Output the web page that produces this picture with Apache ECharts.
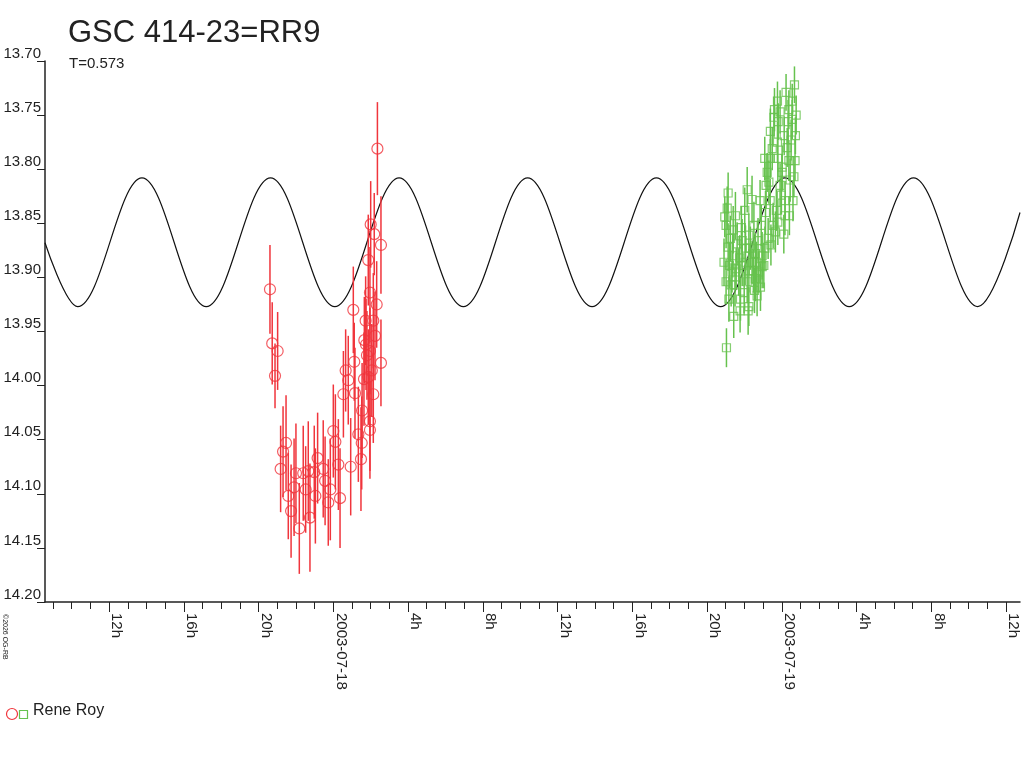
<!DOCTYPE html>
<html>
<head>
<meta charset="utf-8">
<script src="https://cdn.jsdelivr.net/npm/echarts@6/dist/echarts.min.js"></script>
<style>
  html, body { margin: 0; padding: 0; background: #fff; }
  #chart { width: 1024px; height: 768px; }
</style>
</head>
<body>
<div id="chart"></div>
<script>
// hours counted from 2003-07-18 00:00
var xMin = -15.43, xMax = 36.75;
var majorHours = [-12, -8, -4, 0, 4, 8, 12, 16, 20, 24, 28, 32, 36];
var majorLabels = ['12h', '16h', '20h', '2003-07-18', '4h', '8h', '12h', '16h', '20h', '2003-07-19', '4h', '8h', '12h'];
var minorHours = [];
for (var h = -15; h <= 36; h++) minorHours.push(h);

var curveHours = [-15.43, -13.68, -10.24, -6.80, -3.36, 0.08, 3.52, 6.96, 10.40, 13.85, 17.29, 20.73, 24.17, 27.61, 31.05, 34.49, 36.75];
var curveMags = [13.868, 13.927, 13.808, 13.927, 13.808, 13.927, 13.808, 13.927, 13.808, 13.927, 13.808, 13.927, 13.808, 13.927, 13.808, 13.927, 13.840];

// [hour, mag, error]  night of 07-17/18
var redObs = [
  [-3.39, 13.911, 0.041], [-3.27, 13.961, 0.038], [-2.98, 13.968, 0.036], [-3.12, 13.991, 0.030],
  [-2.82, 14.077, 0.040], [-2.69, 14.061, 0.042], [-2.53, 14.053, 0.044], [-2.41, 14.102, 0.040],
  [-2.26, 14.116, 0.043], [-2.10, 14.094, 0.045], [-2.00, 14.081, 0.046], [-1.82, 14.132, 0.042],
  [-1.61, 14.081, 0.044], [-1.48, 14.096, 0.040], [-1.34, 14.079, 0.046], [-1.25, 14.122, 0.050],
  [-1.02, 14.080, 0.043], [-0.96, 14.102, 0.044], [-0.84, 14.067, 0.042], [-0.54, 14.077, 0.045],
  [-0.44, 14.088, 0.041], [-0.27, 14.108, 0.040], [-0.16, 14.096, 0.047], [0.00, 14.042, 0.043],
  [0.11, 14.052, 0.044], [0.27, 14.073, 0.042], [0.36, 14.104, 0.046], [0.54, 14.008, 0.040],
  [0.66, 13.986, 0.038], [0.80, 13.995, 0.041], [0.93, 14.075, 0.045], [1.07, 13.930, 0.040],
  [1.12, 13.978, 0.036], [1.16, 14.007, 0.042], [1.34, 14.045, 0.044], [1.48, 14.068, 0.048],
  [1.52, 14.053, 0.043], [1.66, 13.958, 0.040], [1.73, 13.940, 0.041], [1.87, 13.992, 0.044],
  [1.87, 13.884, 0.042], [1.96, 14.041, 0.045], [1.96, 14.033, 0.046], [1.96, 13.968, 0.040],
  [1.96, 13.914, 0.042], [2.00, 13.851, 0.040], [2.06, 13.986, 0.043], [2.14, 13.940, 0.044],
  [2.14, 14.008, 0.045], [2.19, 13.860, 0.038], [2.23, 13.954, 0.041], [2.32, 13.925, 0.040],
  [2.36, 13.781, 0.043], [2.55, 13.870, 0.045], [2.55, 13.979, 0.040], [1.64, 13.994, 0.043],
  [1.54, 14.023, 0.044], [1.75, 13.962, 0.042], [1.80, 13.972, 0.041]
];

// [hour, mag, error]  night of 07-18/19
var greenObs = [
  [24.68, 13.722, 0.017], [23.77, 13.737, 0.018], [24.56, 13.737, 0.016], [23.61, 13.745, 0.020],
  [24.38, 13.745, 0.018], [23.58, 13.752, 0.019], [23.81, 13.756, 0.017], [24.34, 13.756, 0.020],
  [24.56, 13.754, 0.018], [23.39, 13.765, 0.021], [24.73, 13.769, 0.017], [23.77, 13.775, 0.019],
  [24.29, 13.780, 0.018], [23.09, 13.790, 0.020], [23.39, 13.790, 0.018], [23.79, 13.790, 0.021],
  [24.38, 13.792, 0.019], [24.02, 13.798, 0.020], [23.22, 13.803, 0.018], [24.02, 13.803, 0.017],
  [24.65, 13.807, 0.019], [22.15, 13.819, 0.021], [23.31, 13.812, 0.020], [21.13, 13.822, 0.019],
  [22.41, 13.828, 0.022], [23.98, 13.824, 0.018], [21.08, 13.836, 0.020], [22.02, 13.838, 0.021],
  [20.95, 13.844, 0.019], [21.52, 13.843, 0.022], [23.13, 13.840, 0.020], [24.41, 13.843, 0.018],
  [21.02, 13.852, 0.021], [21.84, 13.854, 0.020], [22.51, 13.852, 0.022], [23.66, 13.858, 0.019],
  [24.11, 13.860, 0.018], [21.25, 13.864, 0.021], [22.24, 13.861, 0.020], [23.27, 13.864, 0.019],
  [21.13, 13.872, 0.022], [21.61, 13.869, 0.020], [22.06, 13.873, 0.021], [22.59, 13.878, 0.019],
  [21.38, 13.880, 0.020], [22.95, 13.880, 0.022], [21.20, 13.889, 0.021], [21.88, 13.889, 0.019],
  [22.41, 13.886, 0.020], [23.04, 13.889, 0.021], [22.77, 13.895, 0.019], [21.70, 13.895, 0.022],
  [22.24, 13.894, 0.020], [21.02, 13.904, 0.021], [21.34, 13.895, 0.019], [22.15, 13.904, 0.020],
  [22.86, 13.909, 0.022], [22.68, 13.917, 0.019], [21.17, 13.920, 0.021], [21.79, 13.920, 0.020],
  [22.24, 13.927, 0.018], [22.20, 13.931, 0.022], [21.43, 13.936, 0.020], [21.04, 13.965, 0.018],
  [22.95, 13.890, 0.020], [22.59, 13.901, 0.021],
  [21.50, 13.907, 0.020], [21.99, 13.914, 0.019], [21.75, 13.882, 0.021], [22.32, 13.873, 0.020],
  [22.64, 13.886, 0.019], [21.40, 13.856, 0.022], [21.88, 13.866, 0.020], [22.73, 13.866, 0.021],
  [22.90, 13.852, 0.019], [23.38, 13.829, 0.020], [23.54, 13.852, 0.021], [23.71, 13.838, 0.019],
  [23.91, 13.815, 0.020], [24.18, 13.829, 0.018], [24.45, 13.810, 0.020], [24.71, 13.792, 0.019],
  [24.13, 13.769, 0.018], [23.91, 13.747, 0.020], [24.23, 13.729, 0.017], [24.50, 13.773, 0.019],
  [24.77, 13.750, 0.018], [23.49, 13.781, 0.020], [23.16, 13.815, 0.021], [22.84, 13.829, 0.019],
  [22.48, 13.894, 0.020], [22.04, 13.886, 0.021], [21.56, 13.892, 0.019], [21.29, 13.907, 0.020],
  [20.91, 13.886, 0.022], [23.10, 13.873, 0.020], [23.42, 13.870, 0.019], [23.79, 13.849, 0.021],
  [24.17, 13.843, 0.018], [24.60, 13.829, 0.019], [21.77, 13.931, 0.020], [22.54, 13.912, 0.021]
];

var RED = '#f0353c';
var GREEN = '#66c24e';
var INK = '#222';
var FONT = 'Liberation Sans, Arial, sans-serif';

var chart = echarts.init(document.getElementById('chart'));

var curveData = curveHours.map(function(h, i) { return [h, curveMags[i]]; });

function errorBars(color) {
  return function(params, api) {
    var x = api.value(0), m = api.value(1), e = api.value(2);
    var p1 = api.coord([x, m - e]);
    var p2 = api.coord([x, m + e]);
    return {
      type: 'line',
      shape: { x1: p1[0], y1: p1[1], x2: p2[0], y2: p2[1] },
      style: { stroke: color, lineWidth: 1.5 }
    };
  };
}

var option = {
  backgroundColor: '#fff',
  animation: false,
  title: [{
    text: 'GSC 414-23=RR9',
    left: 63, top: 13,
    textStyle: { fontFamily: FONT, fontSize: 31, fontWeight: 'normal', color: INK }
  }, {
    text: 'T=0.573',
    left: 64, top: 51,
    textStyle: { fontFamily: FONT, fontSize: 15, fontWeight: 'normal', color: INK }
  }],
  grid: { left: 45, right: 4, top: 61, bottom: 166 },
  xAxis: [{
    type: 'value', min: xMin, max: xMax,
    axisLine: { onZero: false, lineStyle: { color: INK, width: 1.5 } },
    axisTick: { length: 10, lineStyle: { color: INK }, customValues: majorHours },
    axisLabel: {
      customValues: majorHours,
      rotate: -90,
      margin: 11,
      verticalAlign: 'bottom',
      fontFamily: FONT, fontSize: 15, color: INK,
      formatter: function(v) {
        var i = majorHours.indexOf(v);
        return i >= 0 ? majorLabels[i] : '';
      }
    },
    splitLine: { show: false }
  }, {
    type: 'value', min: xMin, max: xMax, position: 'bottom',
    axisLine: { show: false, onZero: false },
    axisTick: { length: 7, lineStyle: { color: INK }, customValues: minorHours },
    axisLabel: { show: false },
    splitLine: { show: false }
  }],
  yAxis: {
    type: 'value', inverse: true, min: 13.7, max: 14.2, interval: 0.05,
    axisLine: { show: true, onZero: false, lineStyle: { color: INK, width: 1.5 } },
    axisTick: { show: true, length: 8, lineStyle: { color: INK } },
    axisLabel: {
      margin: 4, verticalAlign: 'bottom',
      fontFamily: FONT, fontSize: 15, color: INK,
      formatter: function(v) { return v.toFixed(2); }
    },
    splitLine: { show: false }
  },
  graphic: [
    { type: 'circle', left: 4, top: 706, shape: { r: 5.5 }, style: { fill: 'none', stroke: RED, lineWidth: 1.2 } },
    { type: 'rect', left: 17, top: 708, shape: { width: 8, height: 8 }, style: { fill: 'none', stroke: GREEN, lineWidth: 1.2 } },
    { type: 'text', left: 33, top: 703, style: { text: 'Rene Roy', fill: INK, font: '16px ' + FONT } },
    { type: 'text', left: 1, top: 614, rotation: -Math.PI / 2, originX: 0, originY: 0,
      style: { text: '\u00a92026 OG-RB', fill: INK, font: '7px ' + FONT } }
  ],
  series: [{
    type: 'line',
    data: curveData,
    smooth: 0.363,
    showSymbol: false,
    lineStyle: { color: '#111', width: 1.2 },
    z: 2
  }, {
    type: 'custom',
    data: redObs,
    encode: { x: 0, y: 1 },
    renderItem: errorBars(RED),
    z: 3
  }, {
    type: 'scatter',
    data: redObs,
    symbol: 'circle',
    symbolSize: 11,
    itemStyle: { color: 'rgba(0,0,0,0)', borderColor: RED, borderWidth: 1.2 },
    z: 4
  }, {
    type: 'custom',
    data: greenObs,
    encode: { x: 0, y: 1 },
    renderItem: errorBars(GREEN),
    z: 3
  }, {
    type: 'scatter',
    data: greenObs,
    symbol: 'rect',
    symbolSize: 8,
    itemStyle: { color: 'rgba(0,0,0,0)', borderColor: GREEN, borderWidth: 1.2 },
    z: 4
  }]
};

chart.setOption(option);
</script>
</body>
</html>
